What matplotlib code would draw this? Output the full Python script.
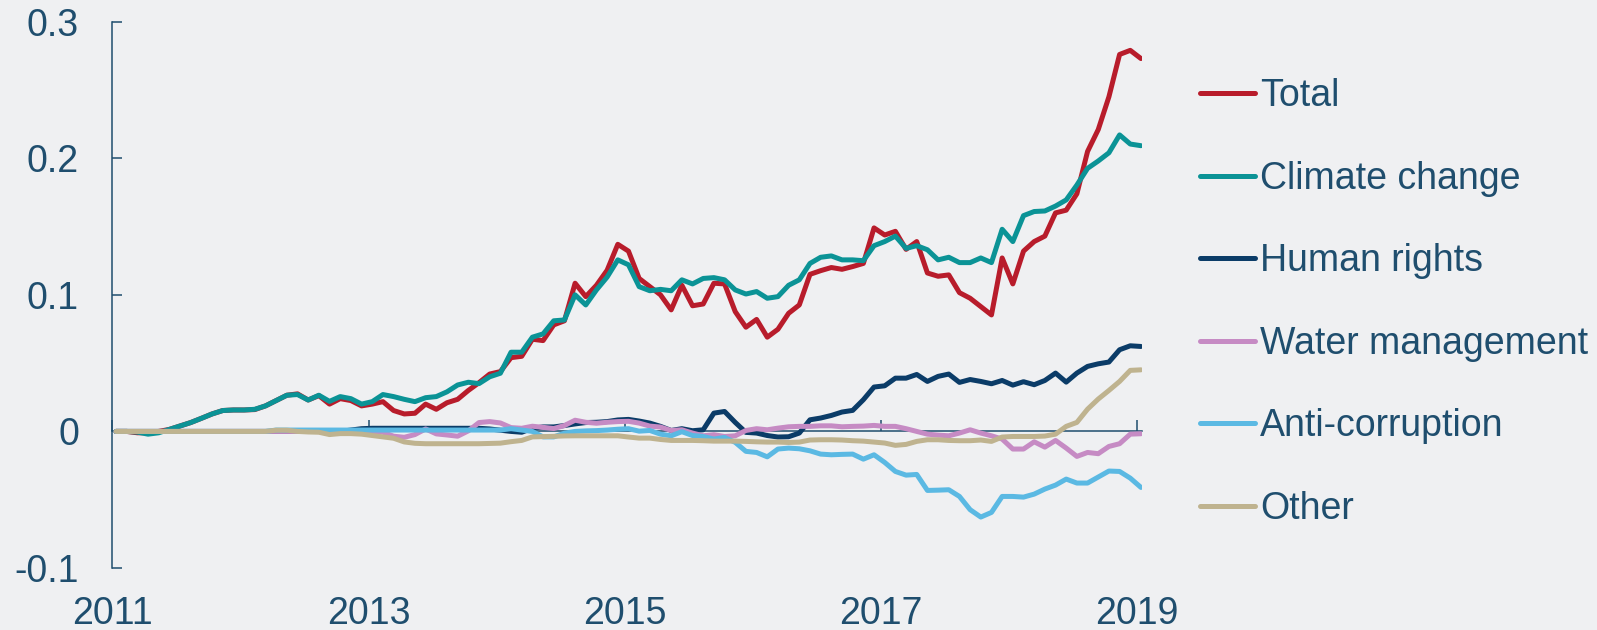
import numpy as np
import pandas as pd
import matplotlib
matplotlib.use("Agg")
import matplotlib.pyplot as plt

# monthly series, Jan 2011 .. Jan 2019
months = pd.date_range("2011-01-01", periods=97, freq="MS")

total = [0, 0, -0.001, -0.001, 0, 0.0015, 0.004, 0.0065, 0.0096, 0.0128,
         0.0153, 0.0157, 0.0157, 0.016, 0.0187, 0.0226, 0.0265, 0.0275, 0.023, 0.0262,
         0.020, 0.024, 0.0226, 0.0187, 0.020, 0.0218, 0.0153, 0.0128, 0.0133, 0.020,
         0.0162, 0.021, 0.0235, 0.030, 0.0357, 0.042, 0.0438, 0.054, 0.055, 0.0675,
         0.0665, 0.078, 0.081, 0.1085, 0.0987, 0.107, 0.118, 0.137, 0.132, 0.112,
         0.106, 0.100, 0.089, 0.107, 0.092, 0.0933, 0.1085, 0.108, 0.0877, 0.0763,
         0.082, 0.069, 0.0748, 0.0865, 0.0926, 0.115, 0.1177, 0.120, 0.1187, 0.1207,
         0.123, 0.149, 0.1438, 0.1465, 0.1333, 0.139, 0.116, 0.1136, 0.1146, 0.1016,
         0.0975, 0.0914, 0.0853, 0.127, 0.108, 0.132, 0.139, 0.143, 0.160, 0.162,
         0.174, 0.205, 0.221, 0.245, 0.276, 0.279, 0.273]

climate = [0, 0, -0.0005, -0.002, -0.001, 0.0015, 0.004, 0.0065, 0.0096, 0.0128,
           0.0153, 0.0157, 0.0157, 0.0162, 0.0187, 0.0226, 0.0265, 0.027, 0.023, 0.0265,
           0.022, 0.0255, 0.024, 0.020, 0.0218, 0.027, 0.0255, 0.0235, 0.0218, 0.0247,
           0.0255, 0.029, 0.034, 0.036, 0.035, 0.040, 0.0426, 0.058, 0.058, 0.069,
           0.0714, 0.081, 0.0816, 0.100, 0.0926, 0.1036, 0.113, 0.1256, 0.122, 0.106,
           0.103, 0.104, 0.103, 0.111, 0.108, 0.112, 0.1126, 0.111, 0.1036, 0.1006,
           0.1024, 0.0975, 0.0987, 0.107, 0.111, 0.123, 0.1275, 0.1285, 0.1256, 0.1256,
           0.125, 0.136, 0.139, 0.143, 0.134, 0.136, 0.133, 0.1256, 0.1275, 0.1236,
           0.1236, 0.127, 0.1236, 0.148, 0.139, 0.158, 0.161, 0.1614, 0.165, 0.1695,
           0.1804, 0.1926, 0.198, 0.204, 0.2171, 0.2104, 0.2092]

human_rights = [0, 0, 0, 0, 0, 0, 0, 0, 0, 0,
                0, 0, 0, 0, 0, 0, 0, 0, 0, 0,
                0, 0, 0.001, 0.002, 0.0023, 0.0023, 0.0023, 0.0023, 0.0023, 0.0023,
                0.0023, 0.0023, 0.0023, 0.0023, 0.0023, 0.0018, 0.0009, 0, -0.0006, 0.0023,
                0.0033, 0.0033, 0.0043, 0.0055, 0.0065, 0.0067, 0.0072, 0.0084, 0.0088, 0.0076,
                0.0061, 0.0037, 0.0007, 0.002, 0.0005, 0.0012, 0.0134, 0.0146, 0.0066, -0.0007,
                -0.0012, -0.003, -0.0041, -0.0039, -0.0012, 0.0085, 0.0098, 0.0117, 0.0142, 0.0154,
                0.0232, 0.0325, 0.0334, 0.039, 0.039, 0.0417, 0.0366, 0.0403, 0.042, 0.0359,
                0.038, 0.0366, 0.0349, 0.0373, 0.0339, 0.0364, 0.0342, 0.0373, 0.0427, 0.0361,
                0.0427, 0.0476, 0.0495, 0.0508, 0.0598, 0.0627, 0.0622]

water = [0, 0, 0, 0, 0, 0, 0, 0, 0, 0,
         0, 0, 0, 0, 0, 0, 0, 0, 0, 0,
         0, 0, 0, 0, 0, -0.0006, -0.0035, -0.0043, -0.0023, 0.0018,
         -0.0018, -0.0026, -0.0035, 0.0004, 0.0065, 0.0072, 0.0062, 0.0028, 0.0023, 0.0038,
         0.003, 0.0021, 0.0043, 0.0082, 0.0067, 0.006, 0.0067, 0.0072, 0.0074, 0.0061,
         0.0039, 0.0032, 0.0007, 0.0012, -0.0012, -0.0032, -0.0024, -0.0037, -0.0032, 0.0007,
         0.002, 0.0012, 0.0024, 0.0034, 0.0037, 0.0037, 0.0041, 0.0041, 0.0034, 0.0037,
         0.0039, 0.0044, 0.0037, 0.0037, 0.002, 0, -0.002, -0.0027, -0.0032, -0.0012,
         0.0012, -0.0012, -0.0032, -0.0056, -0.0129, -0.0129, -0.0076, -0.0115, -0.0066, -0.0122,
         -0.0183, -0.0154, -0.0163, -0.011, -0.009, -0.002, -0.0017]

anti_corruption = [0, 0, 0, 0, 0, 0, 0, 0, 0, 0,
                   0, 0, 0, 0, 0, 0.001, 0.001, 0.001, 0.001, 0.001,
                   0.001, 0.001, 0.001, 0.001, 0.001, 0.001, 0.001, 0.001, 0.001, 0.001,
                   0.001, 0.001, 0.001, 0.001, 0.001, 0.001, 0.001, 0.002, 0.001, 0,
                   -0.004, -0.004, -0.0013, 0, 0.0004, 0.0006, 0.001, 0.0016, 0.002, 0.0002,
                   0.0007, -0.002, -0.0032, -0.0002, -0.003, -0.0037, -0.0056, -0.0044, -0.008, -0.0146,
                   -0.0154, -0.0186, -0.0129, -0.0122, -0.0127, -0.0142, -0.0166, -0.0171, -0.0168, -0.0166,
                   -0.0203, -0.0171, -0.0227, -0.0293, -0.032, -0.0315, -0.0432, -0.043, -0.0427, -0.0476,
                   -0.0573, -0.0627, -0.0593, -0.0476, -0.0476, -0.0481, -0.0459, -0.0422, -0.0393, -0.0349,
                   -0.0378, -0.0378, -0.0334, -0.029, -0.0293, -0.0342, -0.041]

other = [0, 0, 0, 0, 0, 0, 0, 0, 0, 0,
         0, 0, 0, 0, 0, 0.0009, 0.0009, 0, -0.0004, -0.0006,
         -0.0023, -0.0016, -0.0016, -0.002, -0.003, -0.004, -0.005, -0.0077, -0.0087, -0.009,
         -0.009, -0.009, -0.009, -0.009, -0.009, -0.0088, -0.0086, -0.0075, -0.0066, -0.004,
         -0.0038, -0.0036, -0.0033, -0.0032, -0.0032, -0.0032, -0.0032, -0.0032, -0.0041, -0.0049,
         -0.0049, -0.0059, -0.0066, -0.0066, -0.0066, -0.0068, -0.0071, -0.0071, -0.0071, -0.0073,
         -0.0076, -0.0078, -0.0078, -0.0081, -0.0078, -0.0063, -0.0061, -0.0061, -0.0063, -0.0068,
         -0.0071, -0.0078, -0.0085, -0.0102, -0.0095, -0.0073, -0.0061, -0.0061, -0.0066, -0.0068,
         -0.0068, -0.0063, -0.0073, -0.0041, -0.0037, -0.0037, -0.0037, -0.0034, -0.002, 0.0037,
         0.0066, 0.0163, 0.0237, 0.030, 0.0366, 0.0447, 0.0451]

labels = ["Total", "Climate change", "Human rights", "Water management",
          "Anti-corruption", "Other"]
colors = ["#B81C2B", "#0B9396", "#0B3C68", "#C68BC4", "#5BB9E3", "#BFB38F"]
year_ticks = [2011, 2013, 2015, 2017, 2019]
y_ticks = [-0.1, 0, 0.1, 0.2, 0.3]
y_labels = ["-0.1", "0", "0.1", "0.2", "0.3"]

text_col = "#1F4E6E"
bg = "#EFF0F2"
plt.rcParams["font.family"] = ["Liberation Sans", "DejaVu Sans"]

# decimal years, points sit a bit into each month
x = months.year + (months.month - 1 + 0.35) / 12

fig = plt.figure(figsize=(15.97, 6.30), dpi=100, facecolor=bg)
ax = fig.add_axes([0.0703, 0.0984, 0.645, 0.8672])
ax.set_facecolor(bg)

series = [total, climate, human_rights, water, anti_corruption, other]
for vals, lab, col in zip(series, labels, colors):
    ax.plot(x, vals, color=col, linewidth=3.6, label=lab,
            solid_capstyle="round", solid_joinstyle="round")

ax.set_xlim(2011, 2019.04)
ax.set_ylim(-0.1, 0.3)

for s in ["top", "right"]:
    ax.spines[s].set_visible(False)
ax.spines["left"].set_color(text_col)
ax.spines["left"].set_linewidth(1.1)
ax.spines["bottom"].set_position(("data", 0))
ax.spines["bottom"].set_color(text_col)
ax.spines["bottom"].set_linewidth(1.1)
ax.spines["bottom"].set_zorder(0.5)

ax.set_yticks(y_ticks)
ax.set_yticklabels(y_labels)
ax.tick_params(axis="y", direction="in", length=7.5, width=1.1, color=text_col,
               labelcolor=text_col, labelsize=27, pad=24)
ax.set_xticks(year_ticks)
ax.tick_params(axis="x", direction="in", length=8, width=1.1, color=text_col,
               labelbottom=False)

# year labels sit under the plot area, not on the zero line
sec = ax.secondary_xaxis(0)
sec.set_xticks(year_ticks)
sec.set_xticklabels([str(y) for y in year_ticks])
sec.spines["bottom"].set_visible(False)
sec.tick_params(axis="x", length=0, pad=20, labelsize=27, labelcolor=text_col)

leg = fig.legend(loc="center left", bbox_to_anchor=(0.7515, 0.5198),
                 bbox_transform=fig.transFigure, frameon=False, fontsize=27,
                 handlelength=1.45, handletextpad=0.15, labelspacing=1.24,
                 borderpad=0, borderaxespad=0)
for t in leg.get_texts():
    t.set_color(text_col)

fig.savefig("out.png", dpi=100, facecolor=bg)
